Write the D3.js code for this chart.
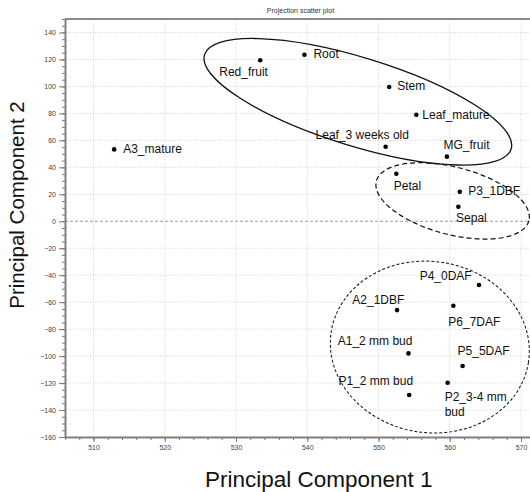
<!DOCTYPE html>
<html>
<head>
<meta charset="utf-8">
<script src="https://cdn.jsdelivr.net/npm/d3@7"></script>
<style>
    html, body { margin: 0; padding: 0; background: #fff; }
    svg { display: block; font-family: "Liberation Sans", Arial, sans-serif; }
</style>
</head>
<body>
<div id="chart"></div>
<script>
// sample names and their projection scores
const sampleNames = [
    'A3_mature', 'Red_fruit', 'Root', 'Stem', 'Leaf_mature', 'Leaf_3 weeks old',
    'MG_fruit', 'Petal', 'P3_1DBF', 'Sepal', 'P4_0DAF', 'A2_1DBF', 'P6_7DAF',
    'A1_2 mm bud', 'P5_5DAF', 'P1_2 mm bud', 'P2_3-4 mm bud'
];
const pc1 = [512.9, 533.4, 539.6, 551.5, 555.3, 551.0, 559.6, 552.5, 561.4, 561.2,
             564.1, 552.6, 560.5, 554.2, 561.8, 554.3, 559.7];
const pc2 = [53.3, 119.4, 123.5, 99.6, 79.0, 55.3, 47.9, 35.2, 21.9, 10.8,
             -47.3, -65.9, -62.7, -98.0, -107.4, -128.9, -119.8];

const xTicks = [510, 520, 530, 540, 550, 560, 570];
const yTicks = [-160, -140, -120, -100, -80, -60, -40, -20, 0, 20, 40, 60, 80, 100, 120, 140];

// where each label sits relative to its dot (pixels)
const labelPlacement = {
    'A3_mature':        { anchor: 'start', dx: 9,    dy: 4 },
    'Red_fruit':        { anchor: 'end',   dx: 7.7,  dy: 16 },
    'Root':             { anchor: 'start', dx: 9,    dy: 3.5 },
    'Stem':             { anchor: 'start', dx: 8,    dy: 3.5 },
    'Leaf_mature':      { anchor: 'start', dx: 6,    dy: 4 },
    'Leaf_3 weeks old': { anchor: 'end',   dx: 23.3, dy: -7.4 },
    'MG_fruit':         { anchor: 'start', dx: -3.4, dy: -8 },
    'Petal':            { anchor: 'start', dx: -2.6, dy: 16 },
    'P3_1DBF':          { anchor: 'start', dx: 8.4,  dy: 3 },
    'Sepal':            { anchor: 'start', dx: -2.3, dy: 15.3 },
    'P4_0DAF':          { anchor: 'end',   dx: -7.3, dy: -5.4 },
    'A2_1DBF':          { anchor: 'end',   dx: 7.3,  dy: -6.4 },
    'P6_7DAF':          { anchor: 'start', dx: -5,   dy: 20 },
    'A1_2 mm bud':      { anchor: 'end',   dx: 4,    dy: -8 },
    'P5_5DAF':          { anchor: 'start', dx: -5,   dy: -11 },
    'P1_2 mm bud':      { anchor: 'end',   dx: 4,    dy: -9.7 },
    'P2_3-4 mm bud':    { anchor: 'start', dx: -3,   dy: 18.3, lines: ['P2_3-4 mm', 'bud'] }
};

// group outlines: centre in data units, semi-axes in pixels, tilt in degrees
const groupOutlines = [
    { cx: 547.1, cy: 88.6,  a: 160.4, b: 44.2, angle: 17.1, dash: null,  width: 1.3 },
    { cx: 560.4, cy: 15.1,  a: 78.8,  b: 33.7, angle: 14.6, dash: '5,3', width: 1.2 },
    { cx: 557.2, cy: -93.3, a: 99.8,  b: 85.6, angle: 8.8,  dash: '3,2', width: 1 }
];

const width = 530, height = 492;
const plot = { left: 65, right: 536, top: 19, bottom: 437 };

const svg = d3.select('#chart').append('svg')
    .attr('width', width)
    .attr('height', height);

const x = d3.scaleLinear().domain([506, 572.1]).range([plot.left, plot.right]);
const y = d3.scaleLinear().domain([-160, 150]).range([plot.bottom, plot.top]);

// grid
svg.append('g').selectAll('line')
    .data(xTicks)
    .enter().append('line')
    .attr('x1', d => x(d)).attr('x2', d => x(d))
    .attr('y1', plot.top).attr('y2', plot.bottom)
    .attr('stroke', '#d4d4d4')
    .attr('stroke-dasharray', '1,1.5');

svg.append('g').selectAll('line')
    .data(yTicks.filter(d => d !== 0))
    .enter().append('line')
    .attr('x1', plot.left).attr('x2', plot.right)
    .attr('y1', d => y(d)).attr('y2', d => y(d))
    .attr('stroke', '#d4d4d4')
    .attr('stroke-dasharray', '1,1.5');

svg.append('line')
    .attr('x1', plot.left).attr('x2', plot.right)
    .attr('y1', y(0)).attr('y2', y(0))
    .attr('stroke', '#999')
    .attr('stroke-dasharray', '3,2');

// frame top
svg.append('line')
    .attr('x1', plot.left).attr('x2', plot.right)
    .attr('y1', plot.top).attr('y2', plot.top)
    .attr('stroke', '#8a8a8a')
    .attr('stroke-width', 2);

// minor ticks
const minorY = d3.range(-160, 151, 5);
const minorX = d3.range(506, 573, 2);

svg.append('g')
    .attr('transform', `translate(${plot.left},0)`)
    .call(d3.axisLeft(y).tickValues(minorY).tickSize(3).tickSizeOuter(0).tickFormat(''))
    .call(g => g.select('.domain').remove())
    .selectAll('line').attr('stroke', '#777');

svg.append('g')
    .attr('transform', `translate(0,${plot.bottom})`)
    .call(d3.axisBottom(x).tickValues(minorX).tickSize(3).tickSizeOuter(0).tickFormat(''))
    .call(g => g.select('.domain').remove())
    .selectAll('line').attr('stroke', '#777');

// main axes
const yAxis = svg.append('g')
    .attr('transform', `translate(${plot.left},0)`)
    .call(d3.axisLeft(y).tickValues(yTicks).tickSize(6).tickSizeOuter(0).tickPadding(3));

const xAxis = svg.append('g')
    .attr('transform', `translate(0,${plot.bottom})`)
    .call(d3.axisBottom(x).tickValues(xTicks).tickSize(5).tickSizeOuter(0).tickPadding(3));

[xAxis, yAxis].forEach(g => {
    g.select('.domain').attr('stroke', '#808080').attr('stroke-width', 2);
    g.selectAll('.tick line').attr('stroke', '#777');
    g.selectAll('.tick text')
        .attr('fill', '#444')
        .style('font-size', '7px')
        .style('font-family', '"Liberation Sans", Arial, sans-serif');
});

// group outlines
svg.append('g').selectAll('ellipse')
    .data(groupOutlines)
    .enter().append('ellipse')
    .attr('cx', 0).attr('cy', 0)
    .attr('rx', d => d.a).attr('ry', d => d.b)
    .attr('transform', d => `translate(${x(d.cx)},${y(d.cy)}) rotate(${d.angle})`)
    .attr('fill', 'none')
    .attr('stroke', '#111')
    .attr('stroke-width', d => d.width)
    .attr('stroke-dasharray', d => d.dash);

// points
const samples = sampleNames.map((name, i) => ({ name, pc1: pc1[i], pc2: pc2[i] }));

svg.append('g').selectAll('circle')
    .data(samples)
    .enter().append('circle')
    .attr('cx', d => x(d.pc1))
    .attr('cy', d => y(d.pc2))
    .attr('r', 2.3)
    .attr('fill', '#000');

const labels = svg.append('g').selectAll('text')
    .data(samples)
    .enter().append('text')
    .attr('x', d => x(d.pc1) + labelPlacement[d.name].dx)
    .attr('y', d => y(d.pc2) + labelPlacement[d.name].dy)
    .attr('text-anchor', d => labelPlacement[d.name].anchor)
    .attr('fill', '#111')
    .style('font-size', '12px');

labels.each(function (d) {
    const p = labelPlacement[d.name];
    const t = d3.select(this);
    if (p.lines) {
        p.lines.forEach((line, i) => {
            t.append('tspan')
                .attr('x', x(d.pc1) + p.dx)
                .attr('dy', i === 0 ? 0 : 15)
                .text(line);
        });
    } else {
        t.text(d.name);
    }
});

// titles
svg.append('text')
    .attr('x', (plot.left + plot.right) / 2)
    .attr('y', 13)
    .attr('text-anchor', 'middle')
    .attr('fill', '#333')
    .style('font-size', '7px')
    .text('Projection scatter plot');

svg.append('text')
    .attr('x', 318.8)
    .attr('y', 486.5)
    .attr('text-anchor', 'middle')
    .attr('fill', '#111')
    .style('font-size', '22.5px')
    .text('Principal Component 1');

svg.append('text')
    .attr('transform', 'translate(24,205) rotate(-90)')
    .attr('text-anchor', 'middle')
    .attr('fill', '#111')
    .style('font-size', '20.5px')
    .text('Principal Component 2');
</script>
</body>
</html>
